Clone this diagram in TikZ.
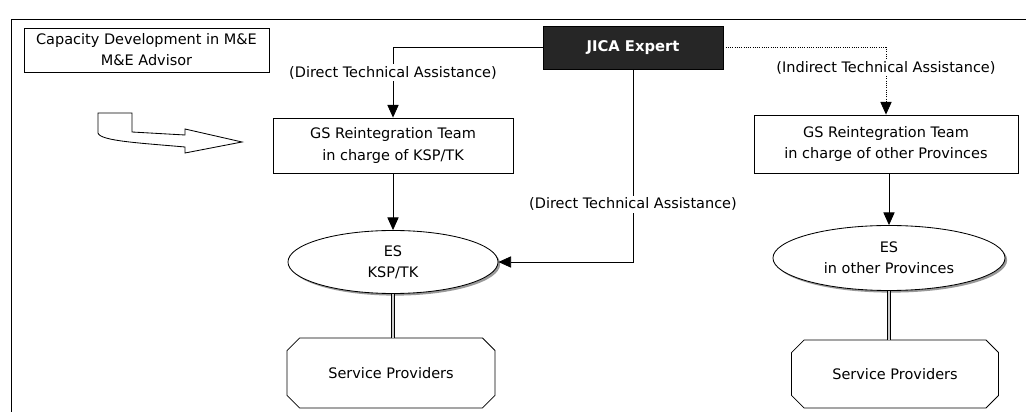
\documentclass[tikz,border=0pt]{standalone}
\usepackage{fontspec}
\setmainfont{DejaVu Sans}
\usetikzlibrary{arrows.meta,shapes.geometric,shapes.misc,shadows}

\begin{document}
\begin{tikzpicture}[x=0.025cm,y=-0.025cm,line width=0.6pt,
    txt/.style={font=\fontsize{10.3}{15}\selectfont},
    box/.style={draw,txt,align=center,inner sep=0pt},
    jicabox/.style={draw,fill=black!85,text=white,font=\fontsize{10.5}{12}\selectfont\bfseries,inner sep=0pt},
    esnode/.style={ellipse,draw,fill=white,txt,align=center,inner sep=0pt,
        drop shadow={shadow xshift=1.5pt,shadow yshift=-1.5pt,fill=gray!80,opacity=1}},
    spnode/.style={chamfered rectangle,chamfered rectangle xsep=5pt,chamfered rectangle ysep=5pt,
        draw,txt,inner sep=0pt},
    ta/.style={-{Triangle[width=8pt,length=9pt]}},
    talabel/.style={fill=white,txt,inner sep=1.5pt},
    link/.style={draw=black,line width=0.4pt,double=gray!40,double distance=1.6pt}]

    \useasboundingbox (0,0) rectangle (1028,412);

    % Frame
    \draw (11,412) -- (11,19) -- (1026,19);

    % Top boxes
    \node[box,minimum width=6.125cm,minimum height=1.1cm] (cap) at (146.5,50)
        {Capacity Development in M\&E\\M\&E Advisor};
    \node[jicabox,minimum width=4.5cm,minimum height=1.075cm] (jica) at (633,47.5) {JICA Expert};

    % Fat arrow
    \draw (98,113) -- (132,113) -- (132,132) -- (185,135) -- (185,129) -- (242,142)
        -- (185,153) -- (185,147) .. controls (140,143) and (100,141) .. (98,133) -- cycle;

    % Reintegration teams
    \node[box,minimum width=6cm,minimum height=1.375cm] (gsk) at (393,145.5)
        {GS Reintegration Team\\in charge of KSP/TK};
    \node[box,minimum width=6.6cm,minimum height=1.45cm] (gso) at (886,144)
        {GS Reintegration Team\\in charge of other Provinces};

    % ES
    \node[esnode,minimum width=5.25cm,minimum height=1.575cm] (esk) at (393,262) {ES\\KSP/TK};
    \node[esnode,minimum width=5.8cm,minimum height=1.625cm] (eso) at (889,258) {ES\\in other Provinces};

    % Service providers
    \node[spnode,minimum width=5.2cm,minimum height=1.75cm] (spk) at (391,373) {Service Providers};
    \node[spnode,minimum width=5.175cm,minimum height=1.7cm] (spo) at (895,374) {Service Providers};

    % Assistance lines
    \draw[ta] (jica.west) -| node[talabel,pos=0.68] {(Direct Technical Assistance)} (gsk.north);
    \draw[ta] (jica.south) |- node[talabel,pos=0.35] {(Direct Technical Assistance)} (esk.east);
    \draw[ta,densely dotted] (jica.east) -| node[talabel,pos=0.65] {(Indirect Technical Assistance)} (gso.north);

    \draw[ta] (gsk) -- (esk);
    \draw[ta] (gso.south -| eso.north) -- (eso.north);

    \path[link] (esk) -- (esk |- spk.north);
    \path[link] (eso) -- (eso |- spo.north);
\end{tikzpicture}
\end{document}
